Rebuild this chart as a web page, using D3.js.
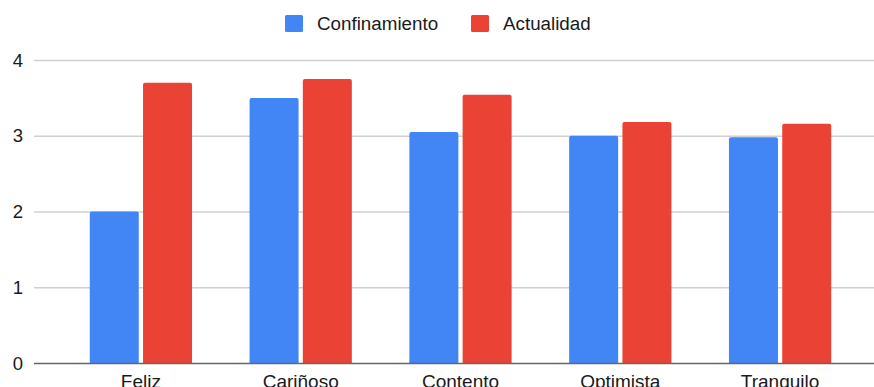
<!DOCTYPE html>
<html>
<head>
<meta charset="utf-8">
<script src="https://cdn.jsdelivr.net/npm/d3@7"></script>
<style>
  html, body { margin: 0; padding: 0; background: #fff; overflow: hidden; }
  svg { display: block; font-family: "Liberation Sans", Arial, sans-serif; }
</style>
</head>
<body>
<svg id="chart" width="874" height="387"></svg>
<script>
// --- Data --------------------------------------------------------------
const categories = ['Feliz', 'Cariñoso', 'Contento', 'Optimista', 'Tranquilo'];
const seriesNames = ['Confinamiento', 'Actualidad'];
const confinamiento = [2.0, 3.5, 3.05, 3.0, 2.98];
const actualidad = [3.7, 3.75, 3.54, 3.18, 3.16];
const yTicks = [0, 1, 2, 3, 4];
const colors = ['#4285f4', '#ea4335'];

const rows = categories.map((c, i) => ({ cat: c, values: [confinamiento[i], actualidad[i]] }));

// --- Layout --------------------------------------------------------------
const gridLeft = 34, gridRight = 874;
const baseY = 363, topY = 60;

const svg = d3.select('#chart');

const x = d3.scaleBand().domain(categories).range([61, 860]).paddingInner(0.36).paddingOuter(0.18);
const xs = d3.scaleBand().domain([0, 1]).range([0, x.bandwidth()]).paddingInner(0.08);
const y = d3.scaleLinear().domain([0, 4]).range([baseY, topY]);

// gridlines
svg.append('g').selectAll('line').data(yTicks.filter(t => t > 0)).join('line')
  .attr('x1', gridLeft).attr('x2', gridRight)
  .attr('y1', d => y(d) + 0.5).attr('y2', d => y(d) + 0.5)
  .attr('stroke', '#d0d0d0').attr('stroke-width', 1.5);

// y labels
svg.append('g').selectAll('text').data(yTicks).join('text')
  .attr('x', 23).attr('y', d => y(d) + 6.5)
  .attr('text-anchor', 'end')
  .attr('font-size', 18.5).attr('fill', '#1a1a1a')
  .text(d => d);

// bars with rounded top corners
function topRounded(x0, y0, w, h, r) {
  return `M${x0},${y0 + h}V${y0 + r}Q${x0},${y0} ${x0 + r},${y0}H${x0 + w - r}Q${x0 + w},${y0} ${x0 + w},${y0 + r}V${y0 + h}Z`;
}

const groups = svg.append('g').selectAll('g').data(rows).join('g')
  .attr('transform', d => `translate(${x(d.cat)},0)`);

groups.selectAll('path').data(d => d.values.map((v, i) => ({ v, i }))).join('path')
  .attr('d', d => topRounded(xs(d.i), y(d.v), xs.bandwidth(), baseY - y(d.v), 2))
  .attr('fill', d => colors[d.i]);

// baseline
svg.append('line')
  .attr('x1', gridLeft).attr('x2', gridRight)
  .attr('y1', baseY + 0.5).attr('y2', baseY + 0.5)
  .attr('stroke', '#666').attr('stroke-width', 1.5);

// x labels (cut at the bottom edge, as in the original)
svg.append('g').selectAll('text').data(categories).join('text')
  .attr('x', d => x(d) + x.bandwidth() / 2)
  .attr('y', 387.5)
  .attr('text-anchor', 'middle')
  .attr('font-size', 19).attr('fill', '#1a1a1a')
  .text(d => d);

// legend
const legendItems = [{ x: 285, tx: 317 }, { x: 471, tx: 503 }];
const legend = svg.append('g').selectAll('g').data(seriesNames).join('g');
legend.append('rect')
  .attr('x', (d, i) => legendItems[i].x).attr('y', 15)
  .attr('width', 18).attr('height', 17).attr('rx', 1.5)
  .attr('fill', (d, i) => colors[i]);
legend.append('text')
  .attr('x', (d, i) => legendItems[i].tx).attr('y', 30)
  .attr('font-size', 18.8).attr('fill', '#1a1a1a')
  .text(d => d);
</script>
</body>
</html>
